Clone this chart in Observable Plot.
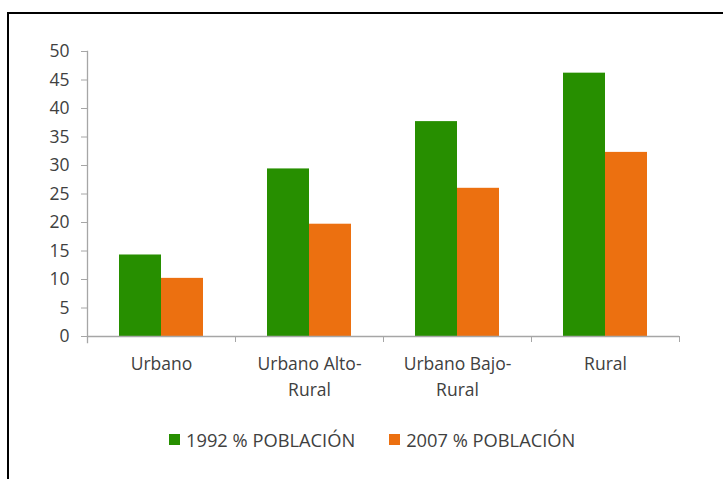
<!DOCTYPE html>
<html><head><meta charset="utf-8">
<script src="https://cdn.jsdelivr.net/npm/d3@7"></script>
<script src="https://cdn.jsdelivr.net/npm/@observablehq/plot@0.6"></script>
<style>
body{margin:0;background:#fff;font-family:"Open Sans",sans-serif;}
#wrap{position:relative;width:723px;height:479px;overflow:hidden;background:#fff;}
#border{position:absolute;left:7px;top:12px;width:800px;height:600px;border-left:2px solid #000;border-top:2px solid #000;}
#chart{position:absolute;left:0;top:0;}
#legend{position:absolute;left:169px;top:427px;display:flex;align-items:center;font-size:18.3px;color:#404040;white-space:nowrap;}
.item{display:flex;align-items:center;}
.sw{width:11px;height:11px;display:inline-block;margin-right:6px;}
</style></head><body>
<div id="wrap"><div id="border"></div><div id="chart"></div><div id="legend"></div></div>
<script>
const categories = ["Urbano", "Urbano Alto-Rural", "Urbano Bajo-Rural", "Rural"];
const categoryLabels = ["Urbano", "Urbano Alto-\nRural", "Urbano Bajo-\nRural", "Rural"];
const series = ["1992 % POBLACIÓN", "2007 % POBLACIÓN"];
const values1992 = [14.3, 29.4, 37.7, 46.2];
const values2007 = [10.2, 19.7, 26.0, 32.3];
const yTicks = [0, 5, 10, 15, 20, 25, 30, 35, 40, 45, 50];
const seriesColors = ["#278f00", "#ec7010"];

const gray = "#a6a6a6";
const textColor = "#404040";

const data1992 = categories.map((c, i) => ({category: c, series: series[0], value: values1992[i]}));
const data2007 = categories.map((c, i) => ({category: c, series: series[1], value: values2007[i]}));

const chart = Plot.plot({
  width: 723,
  height: 420,
  marginLeft: 87,
  marginRight: 44,
  marginTop: 51,
  marginBottom: 84,
  style: {fontFamily: "'Open Sans', sans-serif", fontSize: "17.5px", color: textColor, background: "transparent"},
  x: {domain: categories, padding: 0, label: null},
  y: {domain: [0, 50], label: null},
  color: {domain: series, range: seriesColors},
  marks: [
    Plot.barY(data1992, {x: "category", y: "value", fill: "series", insetLeft: 32, insetRight: 74}),
    Plot.barY(data2007, {x: "category", y: "value", fill: "series", insetLeft: 74, insetRight: 32}),
    Plot.ruleY([0], {stroke: gray, strokeWidth: 1.3}),
    Plot.frame({anchor: "left", stroke: gray, strokeWidth: 1.3, insetBottom: -6}),
    Plot.axisY({ticks: yTicks, tickSize: 6, tickPadding: 12, stroke: gray, fill: textColor, label: null}),
    Plot.axisX({tickSize: 0, tickPadding: 15, lineHeight: 1.5, fill: textColor, label: null,
      tickFormat: d => categoryLabels[categories.indexOf(d)]}),
    Plot.axisX({tickSize: 6, dx: 74, stroke: gray, tickFormat: () => "", label: null})
  ]
});
document.getElementById("chart").appendChild(chart);

const legend = document.getElementById("legend");
series.forEach((s, i) => {
  const item = document.createElement("div");
  item.className = "item";
  if (i > 0) item.style.marginLeft = "34px";
  const sw = document.createElement("span");
  sw.className = "sw";
  sw.style.background = seriesColors[i];
  const t = document.createElement("span");
  t.textContent = s;
  item.appendChild(sw);
  item.appendChild(t);
  legend.appendChild(item);
});
</script>
</body></html>
